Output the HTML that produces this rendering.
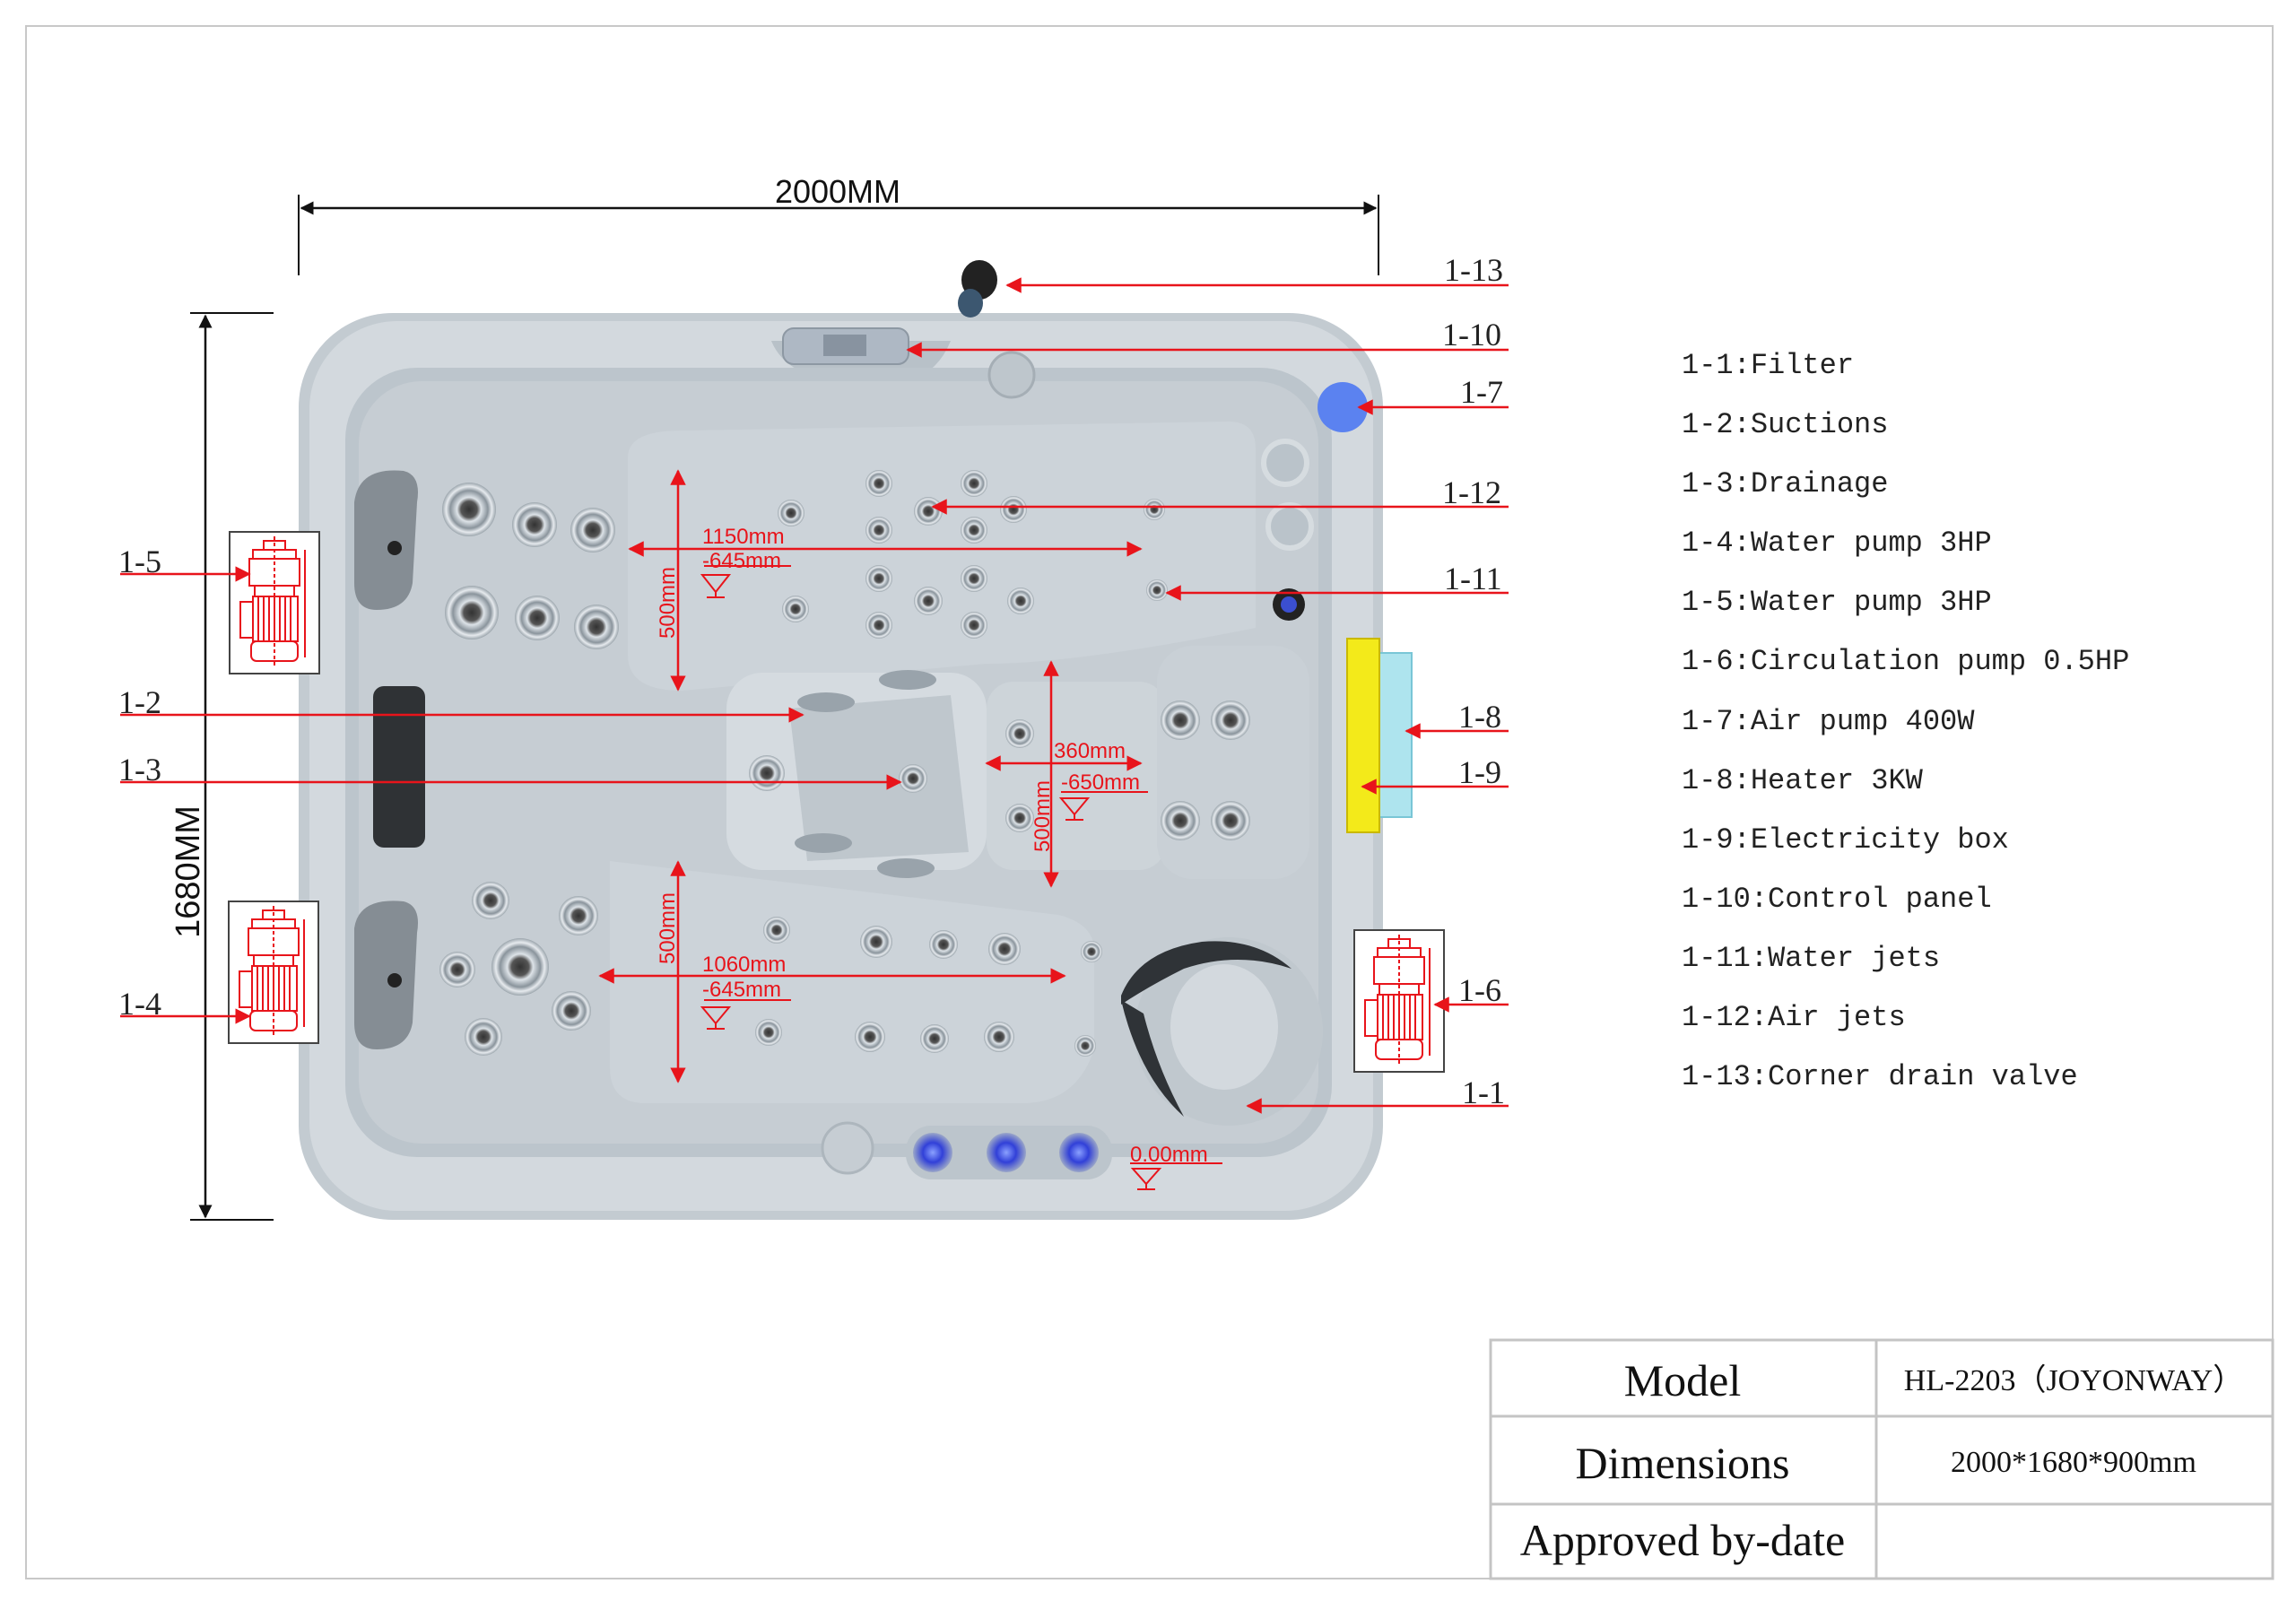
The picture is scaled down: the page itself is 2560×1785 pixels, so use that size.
<!DOCTYPE html>
<html><head><meta charset="utf-8"><style>
html,body{margin:0;padding:0;background:#fff;}
svg{display:block;}
.lg{font-family:"Liberation Mono",monospace;font-size:32px;fill:#222;}
.lb{font-family:"Liberation Serif",serif;font-size:36px;fill:#222;}
.rd{font-family:"Liberation Sans",sans-serif;font-size:24px;fill:#e8141b;}
</style></head><body>
<svg width="2560" height="1785" viewBox="0 0 2560 1785" xmlns="http://www.w3.org/2000/svg">
<defs>
<marker id="ar" viewBox="0 0 10 10" refX="9" refY="5" markerWidth="7" markerHeight="7" orient="auto-start-reverse"><path d="M0,0L10,5L0,10z" fill="#e8141b"/></marker>
<marker id="ak" viewBox="0 0 10 10" refX="9" refY="5" markerWidth="6" markerHeight="6" orient="auto-start-reverse"><path d="M0,0L10,5L0,10z" fill="#111"/></marker>
<radialGradient id="jg"><stop offset="0" stop-color="#333"/><stop offset="0.3" stop-color="#555"/><stop offset="0.45" stop-color="#dde3e8"/><stop offset="0.7" stop-color="#8a949c"/><stop offset="0.85" stop-color="#e6eaee"/><stop offset="1" stop-color="#9ca6ad"/></radialGradient>
<radialGradient id="bg"><stop offset="0" stop-color="#8aa0ff"/><stop offset="0.5" stop-color="#3140d8"/><stop offset="1" stop-color="#9aa6c8"/></radialGradient>
<g id="pump">
<rect x="0" y="0" width="100" height="158" fill="#fff" stroke="#444" stroke-width="2"/>
<g stroke="#e8141b" fill="none" stroke-width="2">
<rect x="38" y="10" width="24" height="10"/><rect x="26" y="20" width="48" height="10"/>
<rect x="22" y="30" width="56" height="30"/><rect x="28" y="60" width="44" height="12"/>
<rect x="26" y="72" width="50" height="50"/><line x1="32" y1="72" x2="32" y2="122"/><line x1="38" y1="72" x2="38" y2="122"/><line x1="44" y1="72" x2="44" y2="122"/><line x1="50" y1="72" x2="50" y2="122"/><line x1="56" y1="72" x2="56" y2="122"/><line x1="62" y1="72" x2="62" y2="122"/><line x1="68" y1="72" x2="68" y2="122"/>
<rect x="12" y="78" width="14" height="40"/><rect x="24" y="122" width="52" height="22" rx="6"/>
<line x1="84" y1="20" x2="84" y2="140"/><line x1="50" y1="5" x2="50" y2="150" stroke-dasharray="4 3"/>
</g></g>
</defs>
<rect x="29" y="29" width="2505" height="1731" fill="none" stroke="#c8c8c8" stroke-width="2"/>

<line x1="333" y1="217" x2="333" y2="307" stroke="#111" stroke-width="2"/>
<line x1="1537" y1="217" x2="1537" y2="307" stroke="#111" stroke-width="2"/>
<line x1="336" y1="232" x2="1534" y2="232" stroke="#111" stroke-width="2.5" marker-start="url(#ak)" marker-end="url(#ak)"/>
<text x="934" y="226" font-family="Liberation Sans,sans-serif" font-size="36" text-anchor="middle" fill="#111">2000MM</text>
<line x1="212" y1="349" x2="305" y2="349" stroke="#111" stroke-width="2"/>
<line x1="212" y1="1360" x2="305" y2="1360" stroke="#111" stroke-width="2"/>
<line x1="229" y1="352" x2="229" y2="1357" stroke="#111" stroke-width="2.5" marker-start="url(#ak)" marker-end="url(#ak)"/>
<text transform="translate(222,972) rotate(-90)" font-family="Liberation Sans,sans-serif" font-size="38" text-anchor="middle" fill="#111">1680MM</text>

<rect x="333" y="349" width="1209" height="1011" rx="105" fill="#c3cbd1"/>
<rect x="345" y="358" width="1186" height="992" rx="98" fill="#d3d9de"/>
<path d="M860,380 Q880,430 980,430 Q1040,430 1060,380 Z" fill="#b8c1c8"/>
<rect x="385" y="410" width="1100" height="880" rx="80" fill="#bcc5cc"/>
<rect x="400" y="425" width="1070" height="850" rx="70" fill="#c6cdd3"/>
<path d="M700,510 Q700,480 760,480 L1370,470 Q1400,470 1400,500 L1400,700 Q1200,740 1100,740 L760,770 Q700,770 700,730 Z" fill="#ccd3d9"/>
<path d="M680,960 L1180,1020 Q1220,1030 1220,1060 L1220,1170 Q1200,1230 1140,1230 L720,1230 Q680,1230 680,1190 Z" fill="#ccd3d9"/>
<rect x="810" y="750" width="290" height="220" rx="40" fill="#d5dbe0"/>
<rect x="1100" y="760" width="200" height="210" rx="30" fill="#cdd4d9"/>
<rect x="1290" y="720" width="170" height="260" rx="40" fill="#c9d0d6"/>
<path d="M880,790 L1060,775 L1080,950 L900,960 Z" fill="#bfc7cd"/>
<path d="M395,560 Q400,520 450,525 Q470,530 465,560 L460,650 Q455,680 420,680 Q395,680 395,650 Z" fill="#858d94"/>
<path d="M395,1035 Q400,1000 450,1005 Q470,1010 465,1040 L460,1140 Q455,1170 420,1170 Q395,1170 395,1140 Z" fill="#858d94"/>
<rect x="416" y="765" width="58" height="180" rx="12" fill="#2f3235"/>
<circle cx="440" cy="611" r="8" fill="#222"/><circle cx="440" cy="1093" r="8" fill="#222"/>
<!-- filter -->
<circle cx="1370" cy="1150" r="105" fill="#c0c8ce"/>
<path d="M1250,1110 Q1270,1060 1340,1050 Q1400,1045 1440,1080 Q1380,1060 1320,1080 Q1280,1100 1250,1120 Z" fill="#2f3337"/>
<path d="M1250,1115 Q1270,1200 1320,1245 Q1290,1190 1275,1130 Z" fill="#2f3337"/>
<ellipse cx="1365" cy="1145" rx="60" ry="70" fill="#d3d9de"/>
<rect x="873" y="366" width="140" height="40" rx="12" fill="#aeb8c4" stroke="#8d98a3" stroke-width="2"/>
<rect x="918" y="373" width="48" height="24" fill="#8893a0"/>
<circle cx="1128" cy="418" r="25" fill="#bec6cc" stroke="#a5aeb5" stroke-width="3"/>
<circle cx="1433" cy="516" r="24" fill="#bac3ca" stroke="#d6dce0" stroke-width="6"/>
<circle cx="1438" cy="587" r="24" fill="#bac3ca" stroke="#d6dce0" stroke-width="6"/>
<circle cx="1437" cy="674" r="18" fill="#222"/><circle cx="1437" cy="674" r="9" fill="#3b4fd0"/>
<ellipse cx="1092" cy="312" rx="20" ry="22" fill="#222"/><ellipse cx="1082" cy="338" rx="14" ry="16" fill="#3c5770"/>
<rect x="1010" y="1255" width="230" height="60" rx="28" fill="#bcc5cc"/>
<circle cx="1040" cy="1285" r="22" fill="url(#bg)"/><circle cx="1122" cy="1285" r="22" fill="url(#bg)"/><circle cx="1203" cy="1285" r="22" fill="url(#bg)"/>
<circle cx="945" cy="1280" r="28" fill="#c6cdd3" stroke="#adb6bd" stroke-width="3"/>
<g fill="url(#jg)">
<circle cx="523" cy="568" r="30"/><circle cx="596" cy="585" r="25"/><circle cx="661" cy="591" r="25"/>
<circle cx="526" cy="683" r="30"/><circle cx="599" cy="689" r="25"/><circle cx="665" cy="699" r="25"/>
<circle cx="547" cy="1004" r="21"/><circle cx="645" cy="1021" r="22"/><circle cx="510" cy="1081" r="20"/><circle cx="580" cy="1078" r="32"/><circle cx="637" cy="1127" r="22"/><circle cx="539" cy="1156" r="21"/>
<circle cx="882" cy="572" r="15"/><circle cx="980" cy="539" r="15"/><circle cx="1086" cy="539" r="15"/><circle cx="980" cy="591" r="15"/><circle cx="1086" cy="591" r="15"/><circle cx="1130" cy="568" r="15"/><circle cx="1287" cy="568" r="12"/>
<circle cx="980" cy="645" r="15"/><circle cx="1086" cy="645" r="15"/><circle cx="980" cy="697" r="15"/><circle cx="1086" cy="697" r="15"/><circle cx="1138" cy="670" r="15"/><circle cx="887" cy="679" r="15"/><circle cx="1290" cy="658" r="12"/>
<circle cx="866" cy="1037" r="15"/><circle cx="977" cy="1050" r="18"/><circle cx="1052" cy="1053" r="16"/><circle cx="1120" cy="1058" r="18"/><circle cx="1217" cy="1061" r="12"/>
<circle cx="857" cy="1151" r="15"/><circle cx="970" cy="1156" r="17"/><circle cx="1042" cy="1158" r="16"/><circle cx="1114" cy="1156" r="17"/><circle cx="1210" cy="1166" r="12"/>
<circle cx="1316" cy="803" r="22"/><circle cx="1372" cy="803" r="22"/><circle cx="1316" cy="915" r="22"/><circle cx="1372" cy="915" r="22"/>
<circle cx="1137" cy="818" r="16"/><circle cx="1137" cy="912" r="16"/><circle cx="1035" cy="570" r="16"/><circle cx="1035" cy="670" r="16"/>
<circle cx="1018" cy="868" r="16"/><circle cx="855" cy="862" r="20"/>
</g>
<g fill="#99a3ab"><ellipse cx="921" cy="783" rx="32" ry="11"/><ellipse cx="1012" cy="758" rx="32" ry="11"/><ellipse cx="918" cy="940" rx="32" ry="11"/><ellipse cx="1010" cy="968" rx="32" ry="11"/></g>

<rect x="1538" y="728" width="36" height="183" fill="#aee4ee" stroke="#79c6d6" stroke-width="2"/>
<rect x="1502" y="712" width="36" height="216" fill="#f3ea1a" stroke="#c9b800" stroke-width="2"/>
<circle cx="1497" cy="454" r="28" fill="#5b82f0"/>
<use href="#pump" x="256" y="593"/>
<use href="#pump" x="255" y="1005"/>
<use href="#pump" x="1510" y="1037"/>

<g stroke="#e8141b" stroke-width="2.5" fill="none">
<line x1="702" y1="612" x2="1272" y2="612" marker-start="url(#ar)" marker-end="url(#ar)"/>
<line x1="756" y1="525" x2="756" y2="769" marker-start="url(#ar)" marker-end="url(#ar)"/>
<line x1="1100" y1="851" x2="1272" y2="851" marker-start="url(#ar)" marker-end="url(#ar)"/>
<line x1="1172" y1="738" x2="1172" y2="988" marker-start="url(#ar)" marker-end="url(#ar)"/>
<line x1="669" y1="1088" x2="1187" y2="1088" marker-start="url(#ar)" marker-end="url(#ar)"/>
<line x1="756" y1="961" x2="756" y2="1206" marker-start="url(#ar)" marker-end="url(#ar)"/>
<line x1="785" y1="631" x2="882" y2="631" stroke-width="2"/><path d="M783,641 L813,641 L798,660 Z M798,660 V666 M788,666 H808" stroke-width="2"/>
<line x1="1183" y1="883" x2="1280" y2="883" stroke-width="2"/><path d="M1183,890 L1213,890 L1198,908 Z M1198,908 V914 M1188,914 H1208" stroke-width="2"/>
<line x1="785" y1="1115" x2="882" y2="1115" stroke-width="2"/><path d="M783,1123 L813,1123 L798,1141 Z M798,1141 V1147 M788,1147 H808" stroke-width="2"/>
<line x1="1260" y1="1297" x2="1363" y2="1297" stroke-width="2"/><path d="M1263,1303 L1293,1303 L1278,1320 Z M1278,1320 V1326 M1268,1326 H1288" stroke-width="2"/>
</g>
<text class="rd" x="783" y="606">1150mm</text><text class="rd" x="783" y="633">-645mm</text>
<text class="rd" transform="translate(752,712) rotate(-90)">500mm</text>
<text class="rd" x="1175" y="845">360mm</text><text class="rd" x="1183" y="880">-650mm</text>
<text class="rd" transform="translate(1170,950) rotate(-90)">500mm</text>
<text class="rd" x="783" y="1083">1060mm</text><text class="rd" x="783" y="1111">-645mm</text>
<text class="rd" transform="translate(752,1075) rotate(-90)">500mm</text>
<text class="rd" x="1260" y="1295" font-family="Liberation Serif,serif" font-size="26">0.00mm</text>

<g stroke="#e8141b" stroke-width="2.5" marker-end="url(#ar)">
<line x1="134" y1="640" x2="278" y2="640"/>
<line x1="134" y1="797" x2="895" y2="797"/>
<line x1="134" y1="872" x2="1004" y2="872"/>
<line x1="134" y1="1133" x2="278" y2="1133"/>
<line x1="1682" y1="318" x2="1123" y2="318"/>
<line x1="1682" y1="390" x2="1012" y2="390"/>
<line x1="1682" y1="454" x2="1515" y2="454"/>
<line x1="1682" y1="565" x2="1040" y2="565"/>
<line x1="1682" y1="661" x2="1301" y2="661"/>
<line x1="1682" y1="815" x2="1568" y2="815"/>
<line x1="1682" y1="877" x2="1519" y2="877"/>
<line x1="1682" y1="1120" x2="1600" y2="1120"/>
<line x1="1682" y1="1233" x2="1391" y2="1233"/>
</g>
<g class="lb">
<text x="132" y="638">1-5</text><text x="132" y="795">1-2</text><text x="132" y="870">1-3</text><text x="132" y="1131">1-4</text>
<text x="1610" y="313">1-13</text><text x="1608" y="385">1-10</text><text x="1628" y="449">1-7</text><text x="1608" y="561">1-12</text><text x="1610" y="657">1-11</text><text x="1626" y="811">1-8</text><text x="1626" y="873">1-9</text><text x="1626" y="1116">1-6</text><text x="1630" y="1230">1-1</text>
</g>
<g class="lg">
<text x="1875" y="416">1-1:Filter</text>
<text x="1875" y="482">1-2:Suctions</text>
<text x="1875" y="548">1-3:Drainage</text>
<text x="1875" y="614">1-4:Water pump 3HP</text>
<text x="1875" y="680">1-5:Water pump 3HP</text>
<text x="1875" y="746">1-6:Circulation pump 0.5HP</text>
<text x="1875" y="813">1-7:Air pump 400W</text>
<text x="1875" y="879">1-8:Heater 3KW</text>
<text x="1875" y="945">1-9:Electricity box</text>
<text x="1875" y="1011">1-10:Control panel</text>
<text x="1875" y="1077">1-11:Water jets</text>
<text x="1875" y="1143">1-12:Air jets</text>
<text x="1875" y="1209">1-13:Corner drain valve</text>
</g>
<g stroke="#c4c4c4" stroke-width="3" fill="none">
<rect x="1662" y="1494" width="872" height="266"/>
<line x1="1662" y1="1579" x2="2534" y2="1579"/><line x1="1662" y1="1677" x2="2534" y2="1677"/>
<line x1="2092" y1="1494" x2="2092" y2="1760"/>
</g>
<g font-family="Liberation Serif,serif" fill="#111" text-anchor="middle">
<text x="1876" y="1556" font-size="50">Model</text>
<text x="1876" y="1648" font-size="50">Dimensions</text>
<text x="1876" y="1734" font-size="50">Approved by-date</text>
<text x="2312" y="1550" font-size="34">HL-2203（JOYONWAY）</text>
<text x="2312" y="1641" font-size="34">2000*1680*900mm</text>
</g>
</svg>
</body></html>
